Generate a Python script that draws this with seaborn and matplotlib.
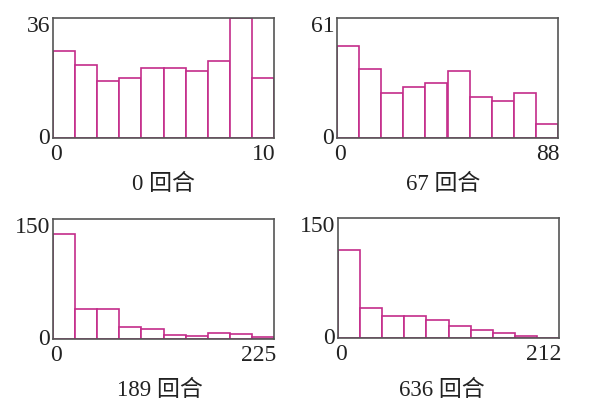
import numpy as np
import pandas as pd
import seaborn as sns
import matplotlib.pyplot as plt
from matplotlib.transforms import ScaledTranslation

sns.set_style("white")
plt.rcParams["font.family"] = ["Liberation Serif", "Noto Sans CJK SC"]

# -------------------------
# DATA (counts per bin, 10 bins each)
# -------------------------

titles = ["0 回合", "67 回合", "189 回合", "636 回合"]
x_max = [10, 88, 225, 212]
y_max = [36, 61, 150, 150]

counts_0 = [26, 22, 17, 18, 21, 21, 20, 23, 36, 18]
counts_67 = [47, 35, 23, 26, 28, 34, 21, 19, 23, 7]
counts_189 = [131, 38, 38, 15, 13, 5, 4, 7, 6, 2]
counts_636 = [110, 38, 28, 28, 22, 15, 10, 6, 3, 0]
all_counts = [counts_0, counts_67, counts_189, counts_636]

# -------------------------
# LAYOUT
# -------------------------

fig = plt.figure(figsize=(6, 4.17), dpi=100)
W, H = 600, 417
boxes = [(53, 18), (337, 18), (53, 219), (338, 218)]  # left, top in px
title_pos = [(163, 184), (443, 184), (160, 390), (442, 390)]
edge = "#c42c8a"

for i in range(4):
    left, top = boxes[i]
    ax = fig.add_axes([left / W, (H - top - 120) / H, 221 / W, 120 / H])
    width = x_max[i] / 10
    centers = np.arange(10) * width + width / 2
    df = pd.DataFrame({"x": centers, "n": all_counts[i]})
    sns.histplot(data=df, x="x", weights="n", bins=10, binrange=(0, x_max[i]),
                 ax=ax, color="white", edgecolor=edge, linewidth=1.2, alpha=1)
    ax.set_xlim(0, x_max[i])
    ax.set_ylim(0, y_max[i])
    ax.set_xlabel("")
    ax.set_ylabel("")
    for s in ax.spines.values():
        s.set_color("#555555")
        s.set_linewidth(1.2)
    ax.tick_params(length=0, labelsize=17, colors="#222222")
    ax.tick_params(axis="x", pad=4)
    ax.tick_params(axis="y", pad=2)
    ax.set_xticks([0, x_max[i]])
    ax.set_xticklabels(["0", str(x_max[i])])
    xl = ax.get_xticklabels()
    xl[0].set_transform(xl[0].get_transform() + ScaledTranslation(3 / 100, 0, fig.dpi_scale_trans))
    xl[1].set_ha("right")
    xl[1].set_transform(xl[1].get_transform() + ScaledTranslation(2 / 100, 0, fig.dpi_scale_trans))
    ax.set_yticks([0, y_max[i]])
    ax.set_yticklabels(["0", str(y_max[i])])
    yl = ax.get_yticklabels()
    yl[0].set_transform(yl[0].get_transform() + ScaledTranslation(0, 2 / 100, fig.dpi_scale_trans))
    yl[1].set_va("top")
    yl[1].set_transform(yl[1].get_transform() + ScaledTranslation(0, 2 / 100, fig.dpi_scale_trans))
    fig.text(title_pos[i][0] / W, 1 - title_pos[i][1] / H, titles[i],
             ha="center", va="center", fontsize=16.5, color="#222222")

plt.savefig("out.png", dpi=100)
